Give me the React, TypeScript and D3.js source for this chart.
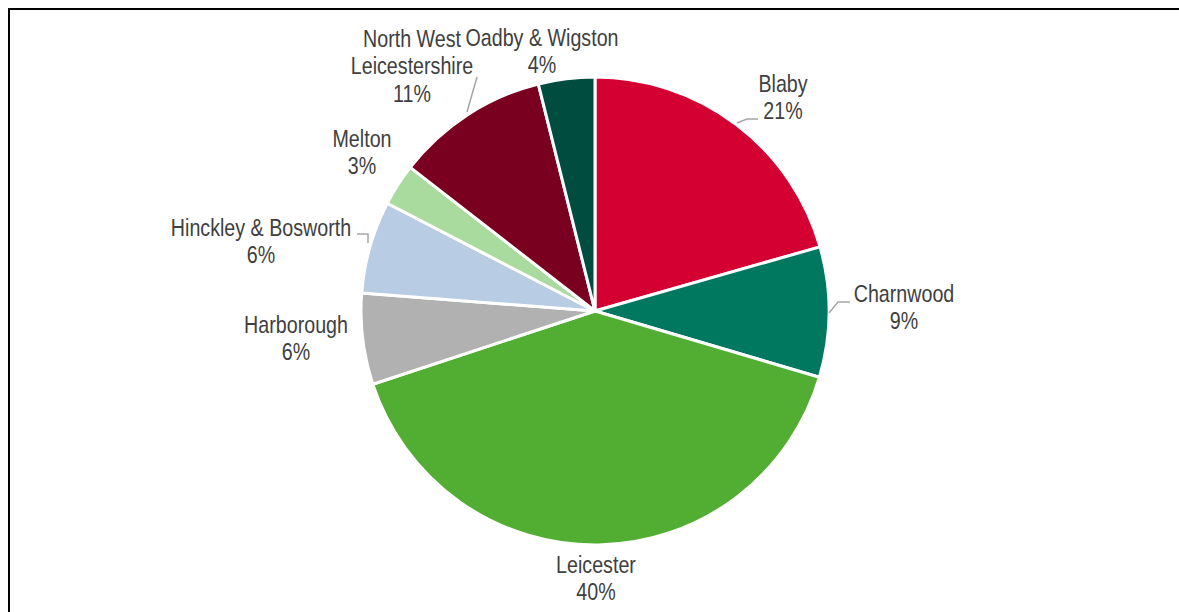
import React from "react";
import * as d3 from "d3";

const categories = ["Blaby", "Charnwood", "Leicester", "Harborough", "Hinckley & Bosworth", "Melton", "North West Leicestershire", "Oadby & Wigston"];
const values = [20.6, 9.0, 40.4, 6.3, 6.4, 2.9, 10.6, 3.9];
const colors = ["#D40032", "#00775F", "#52AE32", "#B1B1B1", "#B8CCE4", "#A9DB9F", "#7A0020", "#004C3F"];
const labelLines = [["Blaby"], ["Charnwood"], ["Leicester"], ["Harborough"], ["Hinckley & Bosworth"], ["Melton"], ["North West", "Leicestershire"], ["Oadby & Wigston"]];

// label layout (center x, first baseline y) and leader polylines
const labelPos: [number, number][] = [
  [783, 92], [904, 302], [596, 573], [296, 333], [261, 236], [362, 147], [412, 47], [542, 46],
];
const leaders: ([number, number][] | null)[] = [
  [[737, 123], [747, 119], [758, 119]],
  [[829, 313], [838, 302], [850, 302]],
  null, null,
  [[357, 234], [368, 234], [368, 243]],
  null,
  [[477, 77], [467, 112]],
  null,
];

const W = 1179, H = 612;
const cx = 595, cy = 311, R = 234;

export default function App() {
  const total = d3.sum(values);
  const pie = d3.pie<number>().sort(null).value((d) => d)(values);
  const arc = d3.arc<d3.PieArcDatum<number>>().innerRadius(0).outerRadius(R);
  const line = d3.line();
  const font = "'Liberation Sans', Arial, sans-serif";
  return (
    <svg width={W} height={H} style={{ position: "absolute", left: 0, top: 0, display: "block" }}>
      <rect x={0} y={0} width={W} height={H} fill="#fff" />
      <line x1={8} y1={9} x2={W} y2={9} stroke="#000" strokeWidth={2} />
      <line x1={9} y1={8} x2={9} y2={H} stroke="#000" strokeWidth={2} />
      <g transform={`translate(${cx},${cy})`}>
        {pie.map((p, i) => (
          <path key={i} d={arc(p) || ""} fill={colors[i]} stroke="#fff" strokeWidth={3} strokeLinejoin="round" />
        ))}
      </g>
      {leaders.map((l, i) => l ? (
        <path key={"l" + i} d={line(l) || ""} fill="none" stroke="#A6A6A6" strokeWidth={1.5} />
      ) : null)}
      {categories.map((c, i) => {
        const [x, y] = labelPos[i];
        const lines = [...labelLines[i], `${Math.round((values[i] / total) * 100)}%`];
        return (
          <g key={c} transform={`translate(${x},${y}) scale(0.82,1)`}>
            <text x={0} y={0} textAnchor="middle" fontFamily={font} fontSize={24} fill="#404040">
              {lines.map((t, j) => (
                <tspan key={j} x={0} dy={j === 0 ? 0 : 27.5}>{t}</tspan>
              ))}
            </text>
          </g>
        );
      })}
    </svg>
  );
}
